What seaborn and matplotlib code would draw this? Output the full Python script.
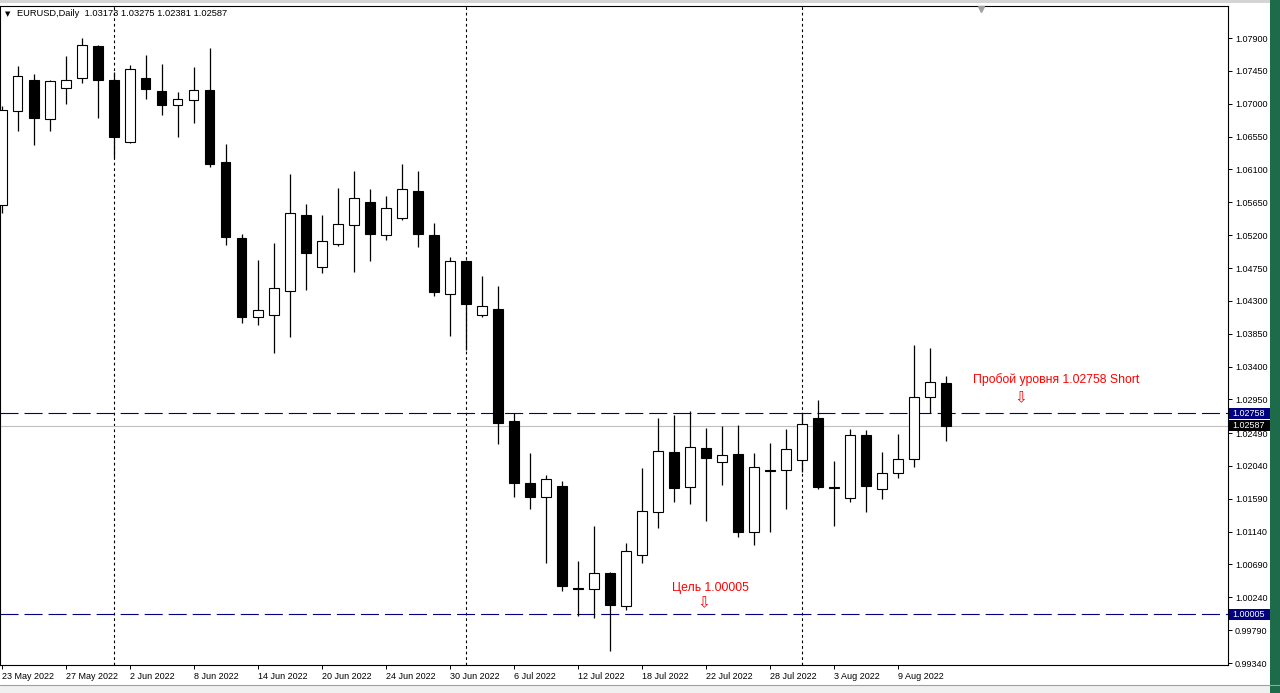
import numpy as np
import pandas as pd
import matplotlib
matplotlib.use('Agg')
import matplotlib.pyplot as plt
import matplotlib.transforms as mtransforms
from matplotlib.patches import Rectangle
from matplotlib.lines import Line2D
import seaborn as sns

sns.set_style('white')
plt.rcParams['font.family'] = ['Liberation Sans', 'DejaVu Sans']
plt.rcParams['lines.scale_dashes'] = False

# EURUSD daily bars, 23 May - 12 Aug 2022
dates = pd.bdate_range('2022-05-23', '2022-08-12')
opens = [1.0561, 1.0690, 1.0733, 1.0679, 1.0721, 1.0735, 1.0779, 1.0732, 1.0647, 1.0735,
         1.0717, 1.0698, 1.0705, 1.0719, 1.0620, 1.0516, 1.0408, 1.0410, 1.0443, 1.0547,
         1.0476, 1.0508, 1.0534, 1.0565, 1.0520, 1.0543, 1.0581, 1.0520, 1.0440, 1.0484,
         1.0410, 1.0419, 1.0266, 1.0180, 1.0161, 1.0177, 1.0037, 1.0035, 1.0057, 1.0012,
         1.0082, 1.0141, 1.0223, 1.0175, 1.0228, 1.0209, 1.0220, 1.0114, 1.0198, 1.0198,
         1.0212, 1.0270, 1.0175, 1.0160, 1.0246, 1.0172, 1.0194, 1.0213, 1.0299, 1.03173]
highs = [1.0697, 1.0752, 1.0741, 1.0733, 1.0765, 1.0790, 1.0781, 1.0744, 1.0753, 1.0767,
         1.0754, 1.0716, 1.0750, 1.0776, 1.0645, 1.0522, 1.0486, 1.0509, 1.0604, 1.0563,
         1.0548, 1.0585, 1.0608, 1.0583, 1.0574, 1.0617, 1.0608, 1.0536, 1.0490, 1.0486,
         1.0464, 1.0450, 1.0277, 1.0222, 1.0192, 1.0184, 1.0074, 1.0122, 1.0059, 1.0098,
         1.0201, 1.0270, 1.0274, 1.0279, 1.0256, 1.0259, 1.0260, 1.0222, 1.0235, 1.0255,
         1.0276, 1.0294, 1.0211, 1.0255, 1.0253, 1.0223, 1.0248, 1.0370, 1.0366, 1.03275]
lows = [1.0550, 1.0662, 1.0643, 1.0663, 1.0699, 1.0728, 1.0681, 1.0625, 1.0646, 1.0706,
        1.0685, 1.0654, 1.0673, 1.0613, 1.0507, 1.0400, 1.0397, 1.0359, 1.0381, 1.0445,
        1.0468, 1.0505, 1.0470, 1.0484, 1.0513, 1.0541, 1.0504, 1.0436, 1.0382, 1.0363,
        1.0408, 1.0234, 1.0161, 1.0145, 1.0071, 1.0033, 0.9999, 0.9996, 0.9951, 1.0006,
        1.0071, 1.0119, 1.0155, 1.0152, 1.0129, 1.0178, 1.0107, 1.0096, 1.0114, 1.0145,
        1.0196, 1.0173, 1.0122, 1.0154, 1.0141, 1.0159, 1.0188, 1.0202, 1.0276, 1.02381]
closes = [1.0691, 1.0738, 1.0680, 1.0731, 1.0733, 1.0781, 1.0733, 1.0654, 1.0747, 1.0720,
          1.0698, 1.0706, 1.0719, 1.0618, 1.0517, 1.0408, 1.0417, 1.0447, 1.0550, 1.0495,
          1.0512, 1.0535, 1.0571, 1.0522, 1.0557, 1.0583, 1.0521, 1.0442, 1.0484, 1.0426,
          1.0423, 1.0263, 1.0181, 1.0161, 1.0186, 1.0039, 1.0036, 1.0057, 1.0013, 1.0087,
          1.0142, 1.0224, 1.0174, 1.0230, 1.0215, 1.0219, 1.0114, 1.0202, 1.0197, 1.0227,
          1.0261, 1.0175, 1.0174, 1.0246, 1.0177, 1.0194, 1.0213, 1.0299, 1.0319, 1.02587]

date_labels = ['23 May 2022', '27 May 2022', '2 Jun 2022', '8 Jun 2022', '14 Jun 2022',
               '20 Jun 2022', '24 Jun 2022', '30 Jun 2022', '6 Jul 2022', '12 Jul 2022',
               '18 Jul 2022', '22 Jul 2022', '28 Jul 2022', '3 Aug 2022', '9 Aug 2022']
price_ticks = [0.99340, 0.99790, 1.00240, 1.00690, 1.01140, 1.01590, 1.02040, 1.02490,
               1.02950, 1.03400, 1.03850, 1.04300, 1.04750, 1.05200, 1.05650, 1.06100,
               1.06550, 1.07000, 1.07450, 1.07900]

level_break = 1.02758
level_target = 1.00005
last_price = closes[-1]

W, H = 1280, 693
fig = plt.figure(figsize=(W / 100, H / 100), dpi=100)
fig.patch.set_facecolor('white')
ax_l, ax_r, ax_t, ax_b = 0, 1228, 6, 665
ax = fig.add_axes([ax_l / W, 1 - ax_b / H, (ax_r - ax_l) / W, (ax_b - ax_t) / H])
ax.set_facecolor('white')

bar_px = 16.0
x_off = 1.7
ax.set_xlim((ax_l - x_off) / bar_px, (ax_r - x_off) / bar_px)
px_per_unit = 7302.0
ax.set_ylim(1.079 - (ax_b - 38) / px_per_unit, 1.079 + (38 - ax_t) / px_per_unit)

O = np.array(opens); Hh = np.array(highs); L = np.array(lows); C = np.array(closes)
idx = np.arange(len(O))
up = C >= O

# month separators
for i in range(1, len(dates)):
    if dates[i].month != dates[i - 1].month:
        ax.axvline(i, color='black', lw=0.8, ls=(0, (2, 2)), zorder=1)

ax.axhline(last_price, color='#c0c0c0', lw=0.8, zorder=1)
for lvl in (level_break, level_target):
    ax.axhline(lvl, color='#000080', lw=0.8, ls=(0, (13, 4.3)), zorder=1)

ax.vlines(idx, L, Hh, color='black', lw=0.9, zorder=2)
ax.bar(idx, np.maximum(np.abs(C - O), 0.00008), bottom=np.minimum(O, C), width=0.6,
       color=np.where(up, 'white', 'black'), edgecolor='black', lw=0.8, zorder=3)

# axes styling
for s in ax.spines.values():
    s.set_visible(True)
    s.set_color('black')
    s.set_linewidth(0.8)
ax.yaxis.tick_right()
ax.set_yticks(price_ticks)
ax.set_yticklabels([f'{v:.5f}' for v in price_ticks])
ax.set_xticks(idx[::4][:len(date_labels)])
ax.set_xticklabels(date_labels)
for t in ax.get_xticklabels():
    t.set_ha('left')
ax.tick_params(axis='y', which='both', right=True, left=False, direction='out', length=3,
               width=0.7, pad=2, labelsize=6.5, colors='black')
ax.tick_params(axis='x', which='both', bottom=True, direction='out', length=3,
               width=0.7, pad=2, labelsize=6.5, colors='black')

# price boxes on the right axis
blend = mtransforms.blended_transform_factory(ax.transAxes, ax.transData)
box_w = 42 / (ax_r - ax_l)
box_h = 11 / px_per_unit
for price, face in ((level_break, '#000080'), (last_price, 'black'), (level_target, '#000080')):
    ax.add_patch(Rectangle((1.0005, price - box_h / 2), box_w, box_h, transform=blend,
                           facecolor=face, edgecolor='none', clip_on=False, zorder=6))
    ax.text(1.0005 + 4 / (ax_r - ax_l), price, f'{price:.5f}', transform=blend, color='white',
            fontsize=6.5, ha='left', va='center', clip_on=False, zorder=7)

# annotations
ax.text(65.9, 1.0322, 'Пробой уровня 1.02758 Short', color='red', fontsize=8.8,
        ha='center', va='center', zorder=5)
ax.text(63.7, 1.0297, '⇩', color='red', fontsize=11, ha='center', va='center',
        family=['DejaVu Sans'], zorder=5)
ax.text(44.3, 1.0037, 'Цель 1.00005', color='red', fontsize=8.8,
        ha='center', va='center', zorder=5)
ax.text(43.9, 1.0016, '⇩', color='red', fontsize=11, ha='center', va='center',
        family=['DejaVu Sans'], zorder=5)

# chart title
fig.text(5 / W, 1 - 14 / H, '▼', fontsize=5, color='black', va='center', ha='left',
         family=['DejaVu Sans'])
fig.text(17 / W, 1 - 14 / H, 'EURUSD,Daily  1.03173 1.03275 1.02381 1.02587',
         fontsize=6.7, color='black', va='center', ha='left')
fig.add_artist(Line2D([981 / W], [1 - 9 / H], marker='v', color='#a0a0a0',
                      markersize=5, transform=fig.transFigure))

# window chrome
fig.add_artist(Rectangle((0, 1 - 3 / H), 1, 3 / H, transform=fig.transFigure,
                         facecolor='#d4d4d4', edgecolor='none'))
fig.add_artist(Rectangle((0, 0), 1, 8 / H, transform=fig.transFigure,
                         facecolor='#f0f0f0', edgecolor='none'))
fig.add_artist(Line2D([0, 1], [8 / H, 8 / H], color='#a0a0a0', lw=0.8,
                      transform=fig.transFigure))
fig.add_artist(Rectangle((1270 / W, 0), 10 / W, 1, transform=fig.transFigure,
                         facecolor='#1d6b48', edgecolor='none'))

fig.savefig('out.png', dpi=100)
